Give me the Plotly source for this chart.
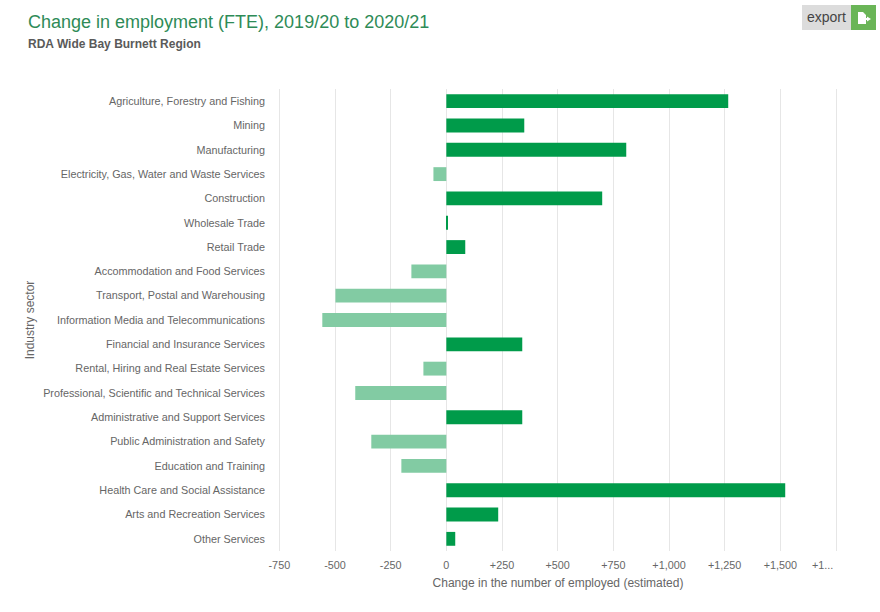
import plotly.graph_objects as go

categories = ["Agriculture, Forestry and Fishing", "Mining", "Manufacturing",
              "Electricity, Gas, Water and Waste Services", "Construction", "Wholesale Trade",
              "Retail Trade", "Accommodation and Food Services", "Transport, Postal and Warehousing",
              "Information Media and Telecommunications", "Financial and Insurance Services",
              "Rental, Hiring and Real Estate Services", "Professional, Scientific and Technical Services",
              "Administrative and Support Services", "Public Administration and Safety",
              "Education and Training", "Health Care and Social Assistance",
              "Arts and Recreation Services", "Other Services"]
values = [1266, 350, 808, -58, 700, 4, 85, -157, -498, -557, 341, -103, -409, 341, -337, -202, 1522, 233, 40]
tick_vals = [-750, -500, -250, 0, 250, 500, 750, 1000, 1250, 1500, 1750]
tick_text = ["-750", "-500", "-250", "0", "+250", "+500", "+750", "+1,000", "+1,250", "+1,500", " "]

POS = "#009b4a"
NEG = "#82cba3"
FONT = "Liberation Sans, Arial, sans-serif"
W, H = 880, 612
L, R, T, B = 278, 838, 89, 551


def px(x):
    return (x - L) / (R - L)


def py(y):
    return (B - y) / (B - T)


def rect(x0, x1, y0, y1, color):
    return dict(type="rect", xref="paper", yref="paper", x0=px(x0), x1=px(x1),
                y0=py(y1), y1=py(y0), fillcolor=color, line=dict(width=0))


def note(text, x, y, size, color, xanchor="center", bold=False):
    return dict(text=f"<b>{text}</b>" if bold else text, xref="paper", yref="paper", x=px(x), y=py(y),
                showarrow=False, xanchor=xanchor, yanchor="middle", xshift=0,
                font=dict(size=size, color=color), borderpad=0)


icon = ("M {a} {t} L {b} {t} L {c} {u} L {c} {m1} L {d} {m1} L {d} {m0} L {e} {m} L {d} {m3} L {d} {m2} "
        "L {c} {m2} L {c} {v} L {a} {v} Z").format(
    a=px(858), b=px(863), c=px(866), d=px(867), e=px(871),
    t=py(12), u=py(15), v=py(24), m=py(19), m0=py(16.5), m1=py(18), m2=py(20), m3=py(21.5))

fig = go.Figure(go.Bar(
    y=categories, x=values, orientation="h",
    marker=dict(color=[POS if v >= 0 else NEG for v in values], line=dict(width=0)),
    width=0.57,
))

fig.update_layout(
    width=W, height=H, autosize=False, showlegend=False,
    paper_bgcolor="white", plot_bgcolor="white",
    margin=dict(l=L, r=W - R, t=T, b=H - B, autoexpand=False),
    font=dict(family=FONT, size=11, color="#666666"),
    title=dict(text="Change in employment (FTE), 2019/20 to 2020/21",
               x=28 / W, xanchor="left", y=1 - 22 / H, yanchor="middle",
               font=dict(family=FONT, size=18, color="#2e8b57")),
    xaxis=dict(range=[-756, 1759], tickvals=tick_vals, ticktext=tick_text, showgrid=True,
               gridcolor="#e6e6e6", gridwidth=1, zeroline=False, showline=False, ticks="",
               ticklabelstandoff=6, tickfont=dict(size=10.8, color="#666666"),
               title=dict(text="Change in the number of employed (estimated)", standoff=8,
                          font=dict(size=12, color="#666666"))),
    yaxis=dict(autorange="reversed", showgrid=False, zeroline=False, showline=False, ticks="",
               ticklabelstandoff=12, tickfont=dict(size=10.8, color="#666666"),
               title=dict(text="Industry sector", standoff=5, font=dict(size=12, color="#666666"))),
    shapes=[
        rect(802, 851, 5, 30, "#dcdcdc"),
        rect(851, 876, 5, 30, "#6ab557"),
        dict(type="path", xref="paper", yref="paper", path=icon, fillcolor="white", line=dict(width=0)),
    ],
    annotations=[
        note("export", 826.5, 17, 14, "#444444"),
        note("RDA Wide Bay Burnett Region", 27, 44.5, 12, "#5a5a5a", xanchor="left", bold=True),
        note("+1...", 822, 565, 10.8, "#666666"),
    ],
)

fig.write_html("out.html", config=dict(displayModeBar=False),
               post_script="document.body.style.margin='0';")
